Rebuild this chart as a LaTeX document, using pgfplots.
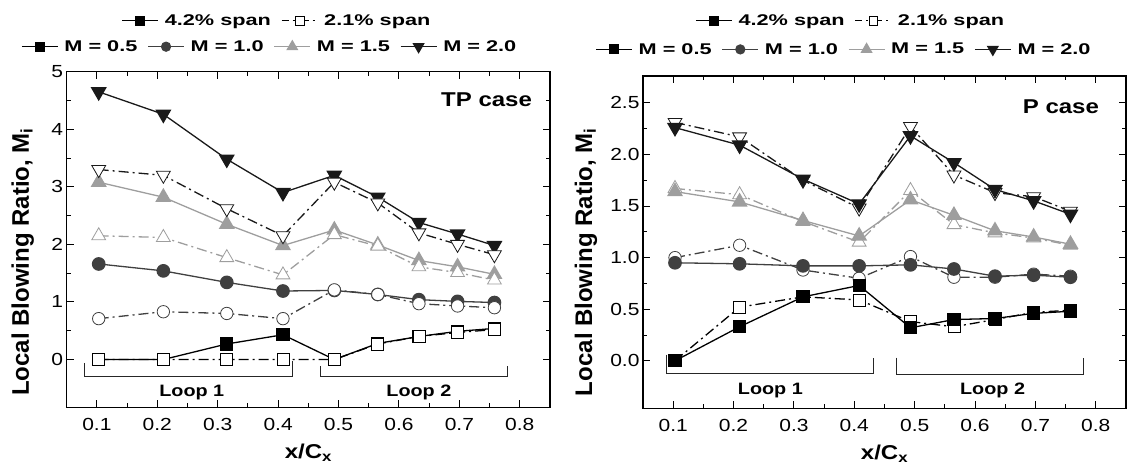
\documentclass[border=0pt]{standalone}
\usepackage{pgfplots}
\usepackage{pgfplotstable}
\pgfplotsset{compat=1.18}
\usepackage{fontspec}
\setmainfont{Liberation Sans}[FakeStretch=1.2]
\newfontfamily\legfont{Liberation Sans}[FakeStretch=1.4]
\newfontfamily\ylfont{Liberation Sans}
\definecolor{cA}{gray}{0.0}
\definecolor{cB}{gray}{0.25}
\definecolor{cC}{gray}{0.62}
\definecolor{cD}{gray}{0.10}

\pgfplotstableread{
x     s05  d05  s10  d10  s15  d15  s20  d20
0.103 0.00 0.00 1.66 0.71 3.08 2.15 4.65 3.30
0.210 0.00 0.00 1.54 0.83 2.82 2.12 4.26 3.20
0.315 0.27 0.00 1.34 0.80 2.35 1.77 3.48 2.62
0.408 0.43 0.00 1.19 0.71 1.98 1.47 2.90 2.15
0.493 0.00 0.00 1.20 1.21 2.25 2.17 3.20 3.08
0.565 0.28 0.27 1.13 1.13 1.99 1.97 2.82 2.72
0.633 0.40 0.40 1.04 0.97 1.72 1.61 2.38 2.20
0.697 0.49 0.47 1.01 0.93 1.61 1.51 2.18 2.00
0.758 0.54 0.52 0.99 0.90 1.48 1.38 1.98 1.82
}\tpdata

\pgfplotstableread{
x     s05  d05  s10  d10  s15  d15  s20  d20
0.103 0.00 0.00 0.95 1.00 1.64 1.67 2.26 2.31
0.210 0.33 0.52 0.94 1.12 1.54 1.61 2.09 2.17
0.315 0.62 0.62 0.92 0.88 1.36 1.35 1.76 1.75
0.408 0.73 0.59 0.92 0.80 1.21 1.15 1.52 1.48
0.493 0.32 0.38 0.93 1.01 1.56 1.65 2.18 2.27
0.565 0.40 0.33 0.89 0.81 1.41 1.32 1.92 1.80
0.633 0.41 0.40 0.82 0.81 1.26 1.24 1.66 1.63
0.697 0.46 0.47 0.83 0.84 1.20 1.19 1.55 1.59
0.758 0.48 0.49 0.81 0.82 1.13 1.12 1.42 1.45
}\pdata

\pgfplotsset{
  dd/.style={dash pattern=on 10pt off 4pt on 2pt off 4pt},
  s05/.style={color=cA, line width=1.3pt, solid, mark=square*, mark size=6pt, mark options={solid, fill=cA}},
  d05/.style={color=cA, line width=1.3pt, dd, mark=square*, mark size=6pt, mark options={solid, line width=0.8pt, fill=white}},
  s10/.style={color=cB, line width=1.3pt, solid, mark=*, mark size=6.2pt, mark options={solid, fill=cB}},
  d10/.style={color=cB, line width=1.3pt, dd, mark=*, mark size=6.2pt, mark options={solid, line width=0.8pt, fill=white}},
  s15/.style={color=cC, line width=1.3pt, solid, mark=triangle*, mark size=8pt, mark options={solid, fill=cC}},
  d15/.style={color=cC, line width=1.3pt, dd, mark=triangle*, mark size=8pt, mark options={solid, line width=0.8pt, fill=white}},
  s20/.style={color=cD, line width=1.3pt, solid, mark=triangle*, mark size=8pt, mark options={solid, rotate=180, fill=cD}},
  d20/.style={color=cD, line width=1.3pt, dd, mark=triangle*, mark size=8pt, mark options={solid, rotate=180, line width=0.8pt, fill=white}},
  legimg/.style={legend image code/.code={%
    \draw[dash phase=3pt] (0pt,0pt) -- (36pt,0pt);
    \draw[every mark/.append style={scale=0.72}] plot coordinates {(18pt,0pt)};}},
  myaxis/.style={
    scale only axis,
    anchor=south west,
    xmin=0.05, xmax=0.85,
    xtick={0.1,0.2,0.3,0.4,0.5,0.6,0.7,0.8},
    minor x tick num=1,
    minor y tick num=1,
    axis line style={line width=1.2pt},
    every tick/.style={black, line width=1pt},
    major tick length=7pt,
    minor tick length=4pt,
    tick label style={font=\fontsize{17.5}{20}\selectfont},
    /pgf/number format/assume math mode=true,
    xticklabel style={yshift=-7pt, /pgf/number format/.cd, fixed, fixed zerofill, precision=1},
    legend columns=4,
    legend cell align=left,
    legimg,
  },
  mylegend/.style={draw=none, fill=none, font=\legfont\fontsize{15.5}{18}\selectfont\bfseries,
    /tikz/every odd column/.append style={column sep=4pt},
    /tikz/every even column/.append style={column sep=8pt}},
}

\begin{document}
\begin{tikzpicture}
\useasboundingbox (0,0) rectangle (1132pt,465pt);

% ---------------- Left: TP case ----------------
\begin{axis}[hide axis, scale only axis, anchor=south west, at={(66.7pt,57.7pt)},
  width=483.3pt, height=335.6pt, xmin=0, xmax=1, ymin=0, ymax=1,
  legend columns=2, legimg,
  legend style={mylegend, at={(0.435,1.152)}, anchor=center}]
\addlegendimage{s05}\addlegendentry{4.2\% span}
\addlegendimage{d05}\addlegendentry{2.1\% span}
\end{axis}

\begin{axis}[myaxis, at={(66.7pt,57.7pt)}, width=483.3pt, height=335.6pt,
  ymin=-0.83, ymax=5, ytick={0,1,2,3,4,5},
  legend style={mylegend, at={(0.42,1.0745)}, anchor=center},
  ylabel={\bfseries Local Blowing Ratio, M\textsubscript{i}},
  ylabel style={font=\ylfont\fontsize{24}{27}\selectfont, at={(axis description cs:0,0.433)}, anchor=center, yshift=44pt},
  xlabel={\bfseries x/C\textsubscript{x}},
  xlabel style={font=\fontsize{20}{23}\selectfont, at={(axis description cs:0.5,0)}, anchor=base, yshift=-51pt},
]
\addlegendimage{s05}\addlegendentry{M = 0.5}
\addlegendimage{s10}\addlegendentry{M = 1.0}
\addlegendimage{s15}\addlegendentry{M = 1.5}
\addlegendimage{s20}\addlegendentry{M = 2.0}
\addplot[s20, forget plot] table[x=x, y=s20] {\tpdata};
\addplot[s15, forget plot] table[x=x, y=s15] {\tpdata};
\addplot[s10, forget plot] table[x=x, y=s10] {\tpdata};
\addplot[s05, forget plot] table[x=x, y=s05] {\tpdata};
\addplot[d20, forget plot] table[x=x, y=d20] {\tpdata};
\addplot[d15, forget plot] table[x=x, y=d15] {\tpdata};
\addplot[d10, forget plot] table[x=x, y=d10] {\tpdata};
\addplot[d05, forget plot] table[x=x, y=d05] {\tpdata};
\draw[line width=0.9pt, black!85] (axis cs:0.080,-0.06) -- (axis cs:0.080,-0.30) -- (axis cs:0.423,-0.30) -- (axis cs:0.423,-0.02);
\draw[line width=0.9pt, black!85] (axis cs:0.470,-0.12) -- (axis cs:0.470,-0.30) -- (axis cs:0.779,-0.30) -- (axis cs:0.779,-0.12);
\node[font=\fontsize{16.5}{19}\selectfont\bfseries] at (axis cs:0.257,-0.575) {Loop 1};
\node[font=\fontsize{16.5}{19}\selectfont\bfseries] at (axis cs:0.633,-0.565) {Loop 2};
\node[font=\fontsize{20}{23}\selectfont\bfseries, anchor=east] at (axis cs:0.826,4.51) {TP case};
\end{axis}

% ---------------- Right: P case ----------------
\begin{axis}[hide axis, scale only axis, anchor=south west, at={(643pt,56.7pt)},
  width=483pt, height=332.3pt, xmin=0, xmax=1, ymin=0, ymax=1,
  legend columns=2, legimg,
  legend style={mylegend, at={(0.43,1.166)}, anchor=center}]
\addlegendimage{s05}\addlegendentry{4.2\% span}
\addlegendimage{d05}\addlegendentry{2.1\% span}
\end{axis}

\begin{axis}[myaxis, at={(643pt,56.7pt)}, width=483pt, height=332.3pt,
  ymin=-0.46, ymax=2.76, ytick={0,0.5,1,1.5,2,2.5},
  yticklabel style={/pgf/number format/.cd, fixed, fixed zerofill, precision=1},
  legend style={mylegend, at={(0.416,1.08)}, anchor=center},
  ylabel={\bfseries Local Blowing Ratio, M\textsubscript{i}},
  ylabel style={font=\ylfont\fontsize{24}{27}\selectfont, at={(axis description cs:0,0.44)}, anchor=center, yshift=57pt},
  xlabel={\bfseries x/C\textsubscript{x}},
  xlabel style={font=\fontsize{20}{23}\selectfont, at={(axis description cs:0.5,0)}, anchor=base, yshift=-51pt},
]
\addlegendimage{s05}\addlegendentry{M = 0.5}
\addlegendimage{s10}\addlegendentry{M = 1.0}
\addlegendimage{s15}\addlegendentry{M = 1.5}
\addlegendimage{s20}\addlegendentry{M = 2.0}
\addplot[d20, forget plot] table[x=x, y=d20] {\pdata};
\addplot[d15, forget plot] table[x=x, y=d15] {\pdata};
\addplot[d10, forget plot] table[x=x, y=d10] {\pdata};
\addplot[d05, forget plot] table[x=x, y=d05] {\pdata};
\addplot[s20, forget plot] table[x=x, y=s20] {\pdata};
\addplot[s15, forget plot] table[x=x, y=s15] {\pdata};
\addplot[s10, forget plot] table[x=x, y=s10] {\pdata};
\addplot[s05, forget plot] table[x=x, y=s05] {\pdata};
\draw[line width=0.9pt, black!85] (axis cs:0.088,0.06) -- (axis cs:0.088,-0.125) -- (axis cs:0.431,-0.125) -- (axis cs:0.431,0.03);
\draw[line width=0.9pt, black!85] (axis cs:0.470,0.03) -- (axis cs:0.470,-0.13) -- (axis cs:0.779,-0.13) -- (axis cs:0.779,0.03);
\node[font=\fontsize{16.5}{19}\selectfont\bfseries] at (axis cs:0.261,-0.29) {Loop 1};
\node[font=\fontsize{16.5}{19}\selectfont\bfseries] at (axis cs:0.629,-0.29) {Loop 2};
\node[font=\fontsize{20}{23}\selectfont\bfseries, anchor=east] at (axis cs:0.811,2.46) {P case};
\end{axis}
\end{tikzpicture}
\end{document}
